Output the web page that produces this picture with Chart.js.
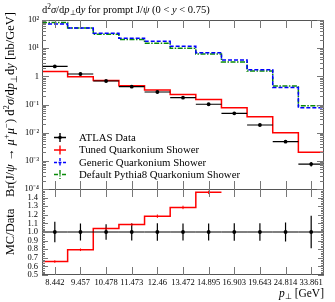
<!DOCTYPE html>
<html><head><meta charset="utf-8">
<script src="https://cdn.jsdelivr.net/npm/chart.js@4/dist/chart.umd.min.js"></script>
<style>html,body{margin:0;padding:0;background:#fff}</style>
</head><body>
<canvas id="c" width="335" height="302" style="display:block;width:335px;height:302px"></canvas>
<script>
// ---------- data ----------
const binLabels   = ['8.442','9.457','10.478','11.473','12.46','13.472','14.895','16.903','19.643','24.814','33.861'];
const dataVals    = [2.24, 1.21, 0.684, 0.43, 0.278, 0.175, 0.102, 0.0487, 0.01875, 0.00479, 0.00077];
const dataErrs    = [0.27, 0.12, 0.062, 0.043, 0.028, 0.0175, 0.0102, 0.0049, 0.0019, 0.00053, 0.000146];
const tunedVals   = [1.47, 0.96, 0.711, 0.467, 0.329, 0.225, 0.149, 0.077, 0.0369, 0.0100, 0.00201];
const tunedRatioErrs = [0.015, 0.015, 0.015, 0.015, 0.02, 0.02, 0.02, 0.02, 0.02, 0.03, 0.05];
const genericVals = [72, 52, 33.7, 22.4, 17.5, 11.6, 6.9, 3.8, 1.72, 0.40, 0.077];
const defaultVals = [81.5, 52, 31, 20.3, 14.9, 9.9, 6.2, 3.23, 1.55, 0.45, 0.0908];
const legendNames = ['ATLAS Data','Tuned Quarkonium Shower','Generic Quarkonium Shower','Default Pythia8 Quarkonium Shower'];
const logTickVals   = [1e-4, 1e-3, 1e-2, 1e-1, 1, 10, 100];
const logTickLabels = ['10\u207B\u2074','10\u207B\u00B3','10\u207B\u00B2','10\u207B\u00B9','1','10\u00B9','10\u00B2'];
const ratioTickVals   = [0.5,0.6,0.7,0.8,0.9,1.0,1.1,1.2,1.3,1.4,1.5];
const ratioTickLabels = ['0.5','0.6','0.7','0.8','0.9','1.0','1.1','1.2','1.3','1.4',''];
const RMIN = 0.5, RMAX = 1.5;

const tunedRatio = tunedVals.map((v,i)=>v/dataVals[i]);
const dataRatioErrs = dataErrs.map((e,i)=>e/dataVals[i]);

const RED='#ff0000', BLUE='#0000ff', GREEN='#0a8a0a';
const FONT='"Liberation Serif", "Times New Roman", serif';

function toSteps(vals){
  const pts = vals.map((v,i)=>({x:i-0.5,y:v}));
  pts.push({x:vals.length-0.5,y:vals[vals.length-1]});
  return pts;
}
// steps for the leading run of bins that lie inside the visible ratio range
function toVisibleSteps(vals,lo,hi){
  const pts=[];
  for(let i=0;i<vals.length;i++){
    const v=vals[i];
    if(!(v>=lo && v<=hi)) break;
    pts.push({x:i-0.5,y:v});
    const nxt=vals[i+1];
    if(i===vals.length-1 || !(nxt>=lo && nxt<=hi)) pts.push({x:i+0.5,y:v});
  }
  return pts;
}

// ---------- rich text helper ----------
function segFont(s,size){ const sz=(s.sup||s.sub)?size*0.7:size; return (s.i?'italic ':'')+sz.toFixed(2)+'px '+FONT; }
function richWidth(ctx,segs,size){ let w=0; for(const s of segs){ ctx.font=segFont(s,size); w+=ctx.measureText(s.t).width; } return w; }
function drawRich(ctx,segs,x,y,size){
  ctx.textAlign='left'; ctx.textBaseline='alphabetic';
  for(const s of segs){ ctx.font=segFont(s,size); const dy=s.sup?-size*0.38:(s.sub?size*0.22:0); ctx.fillText(s.t,x,y+dy); x+=ctx.measureText(s.t).width; }
}
const titleSegs=[{t:'d'},{t:'2',sup:1},{t:'\u03C3',i:1},{t:'/d'},{t:'p',i:1},{t:'\u22A5',sub:1},{t:'d'},{t:'y',i:1},{t:' for prompt J/'},{t:'\u03C8',i:1},{t:' (0 < '},{t:'y',i:1},{t:' < 0.75)'}];
const yTitleSegs=[{t:'Br(J/'},{t:'\u03C8',i:1},{t:' \u2192 '},{t:'\u03BC',i:1},{t:'+',sup:1},{t:'\u03BC',i:1},{t:'\u2212',sup:1},{t:') d'},{t:'2',sup:1},{t:'\u03C3',i:1},{t:'/d'},{t:'p',i:1},{t:'\u22A5',sub:1},{t:'d'},{t:'y',i:1},{t:' [nb/GeV]'}];
const rTitleSegs=[{t:'MC/Data'}];
const xTitleSegs=[{t:'p',i:1},{t:'\u22A5',sub:1},{t:' [GeV]'}];

// ---------- decorations plugin ----------
const deco = {
  id:'deco',
  afterDatasetsDraw(chart){
    const ctx=chart.ctx, X=chart.scales.x, Y=chart.scales.y, R=chart.scales.yRatio;
    ctx.save();
    ctx.strokeStyle='#000'; ctx.lineWidth=1.2;
    dataVals.forEach((v,i)=>{
      const xl=X.getPixelForValue(i-0.5), xr=X.getPixelForValue(i+0.5), xc=X.getPixelForValue(i);
      const yc=Y.getPixelForValue(v);
      ctx.beginPath(); ctx.moveTo(xl,yc); ctx.lineTo(xr,yc);
      ctx.moveTo(xc,Y.getPixelForValue(v+dataErrs[i])); ctx.lineTo(xc,Y.getPixelForValue(Math.max(v-dataErrs[i],1e-9))); ctx.stroke();
      const yr=R.getPixelForValue(1);
      ctx.beginPath(); ctx.moveTo(xl,yr); ctx.lineTo(xr,yr);
      ctx.moveTo(xc,R.getPixelForValue(1+dataRatioErrs[i])); ctx.lineTo(xc,R.getPixelForValue(1-dataRatioErrs[i])); ctx.stroke();
    });
    ctx.strokeStyle=RED; ctx.lineWidth=1;
    tunedRatio.forEach((v,i)=>{
      if(v<RMIN||v>RMAX) return;
      const xc=X.getPixelForValue(i);
      ctx.beginPath(); ctx.moveTo(xc,R.getPixelForValue(v+tunedRatioErrs[i])); ctx.lineTo(xc,R.getPixelForValue(v-tunedRatioErrs[i])); ctx.stroke();
    });
    const L=X.left, Rt=X.right;
    ctx.strokeStyle='#555'; ctx.lineWidth=1;
    ctx.strokeRect(L+0.5, Y.top+0.5, Rt-L-1, Y.bottom-Y.top);
    ctx.strokeRect(L+0.5, R.top+0.5, Rt-L-1, R.bottom-R.top-1);
    ctx.strokeStyle='#777';
    binLabels.forEach((_,i)=>{
      const px=Math.round(X.getPixelForValue(i))+0.5;
      ctx.beginPath();
      ctx.moveTo(px,Y.top); ctx.lineTo(px,Y.top+8);
      ctx.moveTo(px,Y.bottom); ctx.lineTo(px,Y.bottom-8);
      ctx.moveTo(px,R.top); ctx.lineTo(px,R.top+8);
      ctx.moveTo(px,R.bottom); ctx.lineTo(px,R.bottom-8);
      ctx.stroke();
    });
    for(let e=-4;e<=2;e++){
      for(let m=1;m<=9;m++){
        const v=m*Math.pow(10,e); if(v>100.0001) break;
        const py=Math.round(Y.getPixelForValue(v))+0.5; const len=(m===1)?7:4;
        ctx.beginPath(); ctx.moveTo(L,py); ctx.lineTo(L+len,py); ctx.moveTo(Rt,py); ctx.lineTo(Rt-len,py); ctx.stroke();
      }
    }
    for(let k=0;k<=50;k++){
      const v=RMIN+k*0.02; const py=Math.round(R.getPixelForValue(v))+0.5; const len=(k%5===0)?6:3;
      ctx.beginPath(); ctx.moveTo(L,py); ctx.lineTo(L+len,py); ctx.moveTo(Rt,py); ctx.lineTo(Rt-len,py); ctx.stroke();
    }
    const lx=60, rows=[137.5,150,162.5,174.5];
    const styles=[{c:'#000',d:[]},{c:RED,d:[]},{c:BLUE,d:[3,1.5]},{c:GREEN,d:[4,1.5,1,1.5]}];
    rows.forEach((ry,k)=>{
      ctx.strokeStyle=styles[k].c; ctx.lineWidth=1.4; ctx.setLineDash(styles[k].d);
      ctx.beginPath(); ctx.moveTo(lx-6,ry); ctx.lineTo(lx+6,ry); ctx.moveTo(lx,ry-4.5); ctx.lineTo(lx,ry+4.5); ctx.stroke();
      ctx.setLineDash([]);
      if(k===0){ ctx.fillStyle='#000'; ctx.beginPath(); ctx.arc(lx,ry,1.8,0,Math.PI*2); ctx.fill(); }
      ctx.fillStyle='#000'; ctx.font='10.8px '+FONT; ctx.textAlign='left'; ctx.textBaseline='middle';
      ctx.fillText(legendNames[k], 79, ry+0.5);
    });
    ctx.fillStyle='#000';
    drawRich(ctx,titleSegs,L,12.5,10.5);
    const xw=richWidth(ctx,xTitleSegs,11.5);
    drawRich(ctx,xTitleSegs,Rt-xw,296.5,11.5);
    ctx.save(); ctx.translate(14,(Y.top+Y.bottom)/2); ctx.rotate(-Math.PI/2);
    const yw=richWidth(ctx,yTitleSegs,12.5); drawRich(ctx,yTitleSegs,-yw/2,0,12.5); ctx.restore();
    ctx.save(); ctx.translate(14,(R.top+R.bottom)/2); ctx.rotate(-Math.PI/2);
    const rw=richWidth(ctx,rTitleSegs,12.5); drawRich(ctx,rTitleSegs,-rw/2,0,12.5); ctx.restore();
    ctx.restore();
  }
};

const lineDs = (label,vals,color,dash,order,axis)=>({label,data:vals,yAxisID:axis||'y',borderColor:color,borderWidth:1.5,borderDash:dash,stepped:true,pointRadius:0,fill:false,order});

new Chart(document.getElementById('c'),{
  type:'line',
  data:{datasets:[
    lineDs('Tuned Quarkonium Shower',toSteps(tunedVals),RED,[],3),
    lineDs('Default Pythia8 Quarkonium Shower',toSteps(defaultVals),GREEN,[5,1.5,1.5,1.5],2),
    lineDs('Generic Quarkonium Shower',toSteps(genericVals),BLUE,[4,2],1),
    lineDs('Tuned ratio',toVisibleSteps(tunedRatio,RMIN,RMAX),RED,[],3,'yRatio'),
    {label:'ATLAS Data',data:dataVals.map((v,i)=>({x:i,y:v})),yAxisID:'y',showLine:false,pointRadius:1.9,pointBackgroundColor:'#000',pointBorderWidth:0,order:0},
    {label:'Data ratio',data:dataVals.map((v,i)=>({x:i,y:v/v})),yAxisID:'yRatio',showLine:false,pointRadius:1.9,pointBackgroundColor:'#000',pointBorderWidth:0,order:0}
  ]},
  options:{
    responsive:false, animation:false, devicePixelRatio:1,
    layout:{padding:{left:0,right:11,top:20,bottom:0}},
    plugins:{legend:{display:false},tooltip:{enabled:false}},
    scales:{
      x:{type:'linear',position:'bottom',min:-0.5,max:10.5,
        afterBuildTicks:s=>{s.ticks=binLabels.map((_,i)=>({value:i}));},
        afterFit:s=>{s.height=27;},
        grid:{display:false,drawTicks:false},border:{display:false},
        ticks:{autoSkip:false,maxRotation:0,padding:3,color:'#000',font:{family:FONT,size:8.5},callback:(v,i)=>binLabels[i]}},
      y:{type:'logarithmic',axis:'y',position:'left',stack:'p',stackWeight:169,weight:2,min:1e-4,max:100,
        afterBuildTicks:s=>{s.ticks=logTickVals.map(v=>({value:v}));},
        afterFit:s=>{s.width=42;},
        grid:{display:false,drawTicks:false},border:{display:false},
        ticks:{autoSkip:false,padding:3,color:'#000',font:{family:FONT,size:8.5},callback:(v,i)=>logTickLabels[i]}},
      yRatio:{type:'linear',axis:'y',position:'left',stack:'p',stackWeight:86,weight:1,min:RMIN,max:RMAX,
        afterBuildTicks:s=>{s.ticks=ratioTickVals.map(v=>({value:v}));},
        afterFit:s=>{s.width=42;},
        grid:{display:false,drawTicks:false},border:{display:false},
        ticks:{autoSkip:false,padding:4,color:'#000',font:{family:FONT,size:8.5},callback:(v,i)=>ratioTickLabels[i]}}
    }
  },
  plugins:[deco]
});
</script>
</body></html>
